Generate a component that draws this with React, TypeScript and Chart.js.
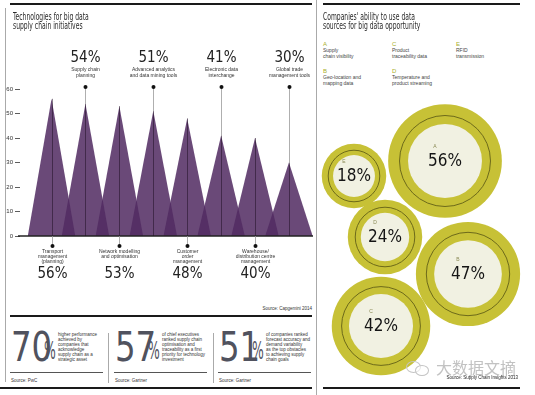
import React, { useEffect, useRef } from "react";
import { Chart, registerables } from "chart.js";
Chart.register(...registerables);

// ---------- data ----------
const techLabels: string[][] = [
  ["Transport", "management", "(planning)"],
  ["Supply chain", "planning"],
  ["Network modelling", "and optimisation"],
  ["Advanced analytics", "and data mining tools"],
  ["Customer", "order", "management"],
  ["Electronic data", "interchange"],
  ["Warehouse/", "distribution centre", "management"],
  ["Global trade", "management tools"],
];
const techValues = [56, 54, 53, 51, 48, 41, 40, 30];
const techSide = ["below", "above", "below", "above", "below", "above", "below", "above"];
const yTicks = [0, 10, 20, 30, 40, 50, 60];

const sourceLetters = ["A", "B", "C", "D", "E"];
const sourceLabels: string[][] = [
  ["Supply", "chain visibility"],
  ["Geo-location and", "mapping data"],
  ["Product", "traceability data"],
  ["Temperature and", "product streaming"],
  ["RFID", "transmission"],
];
const sourceValues = [56, 47, 42, 24, 18];
// packed-bubble layout positions (layout units)
const bubbleX = [445, 468, 381, 385, 354];
const bubbleY = [161, 274, 326, 237, 176];

const statValues = ["70", "57", "51"];
const statTexts: string[][] = [
  ["higher performance", "achieved by", "companies that", "acknowledge", "supply chain as a", "strategic asset"],
  ["of chief executives", "ranked supply chain", "optimisation and", "traceability as a first", "priority for technology", "investment"],
  ["of companies ranked", "forecast accuracy and", "demand variability", "as the top obstacles", "to achieving supply", "chain goals"],
];
const statSources = ["Source: PwC", "Source: Gartner", "Source: Gartner"];

// ---------- styles ----------
const NARROW = '"Liberation Sans Narrow","DejaVu Sans Condensed","Arial Narrow",sans-serif';
const SANS = '"Liberation Sans","DejaVu Sans",Arial,sans-serif';

function TechChart() {
  const ref = useRef<HTMLCanvasElement>(null);
  useEffect(() => {
    const W = 0.7;
    const datasets: any[] = techValues.map((v, i) => ({
      type: "line",
      data: [
        { x: i - W, y: 0 },
        { x: i, y: v },
        { x: i + W, y: 0 },
      ],
      fill: "origin",
      backgroundColor: "rgba(82,43,98,0.86)",
      borderWidth: 0,
      pointRadius: 0,
      tension: 0,
      clip: false,
    }));
    const labelPlugin = {
      id: "techLabels",
      afterDatasetsDraw(chart: any) {
        const { ctx, chartArea: a, scales } = chart;
        const xs = scales.x, ys = scales.y;
        const y0 = ys.getPixelForValue(0);
        ctx.save();
        ctx.strokeStyle = "#222";
        ctx.lineWidth = 1.5;
        ctx.beginPath();
        ctx.moveTo(a.left - 2, y0);
        ctx.lineTo(a.right, y0);
        ctx.stroke();
        techValues.forEach((v, i) => {
          const px = Math.round(xs.getPixelForValue(i)) + 0.5;
          const py = ys.getPixelForValue(v);
          const above = techSide[i] === "above";
          const dotY = above ? a.top - 2 : y0 + 10;
          ctx.lineWidth = 0.8;
          if (above) {
            ctx.strokeStyle = "#9a9a9a";
            ctx.beginPath();
            ctx.moveTo(px, dotY);
            ctx.lineTo(px, py);
            ctx.stroke();
          }
          ctx.strokeStyle = "rgba(30,15,35,0.65)";
          ctx.beginPath();
          ctx.moveTo(px, py);
          ctx.lineTo(px, y0);
          ctx.stroke();
          if (!above) {
            ctx.strokeStyle = "#9a9a9a";
            ctx.beginPath();
            ctx.moveTo(px, y0);
            ctx.lineTo(px, dotY);
            ctx.stroke();
          }
          ctx.fillStyle = "#111";
          ctx.beginPath();
          ctx.arc(px, dotY, 2, 0, Math.PI * 2);
          ctx.fill();
          ctx.textAlign = "center";
          ctx.textBaseline = "middle";
          const lines = techLabels[i];
          ctx.font = `5px ${SANS}`;
          ctx.fillStyle = "#333";
          if (above) {
            const start = a.top - 13.5 - (lines.length - 1) * 5.5;
            lines.forEach((l, k) => ctx.fillText(l, px, start + k * 5.5));
            ctx.font = `15px ${NARROW}`;
            ctx.fillStyle = "#222";
            ctx.fillText(v + "%", px, a.top - 31);
          } else {
            lines.forEach((l, k) => ctx.fillText(l, px, y0 + 16 + k * 5));
            ctx.font = `15px ${NARROW}`;
            ctx.fillStyle = "#222";
            ctx.fillText(v + "%", px, y0 + 38);
          }
        });
        ctx.restore();
      },
    };
    const chart = new Chart(ref.current as HTMLCanvasElement, {
      type: "line",
      data: { datasets },
      options: {
        animation: false,
        responsive: false,
        events: [],
        layout: { autoPadding: false, padding: { top: 89, bottom: 64, left: 0, right: 3 } },
        plugins: { legend: { display: false }, tooltip: { enabled: false } },
        scales: {
          x: { type: "linear", display: false, min: -0.93, max: 7.71 },
          y: {
            type: "linear",
            min: 0,
            max: 60,
            afterFit: (s: any) => {
              s.width = 20;
            },
            afterBuildTicks: (s: any) => {
              s.ticks = yTicks.map((v) => ({ value: v }));
            },
            ticks: { color: "#333", font: { size: 6, family: SANS }, padding: 2 },
            grid: { drawOnChartArea: false, tickLength: 5, color: "#333", lineWidth: 0.8 },
            border: { display: false },
          },
        },
      } as any,
      plugins: [labelPlugin],
    });
    return () => chart.destroy();
  }, []);
  return (
    <canvas
      ref={ref}
      width={316}
      height={300}
      style={{ position: "absolute", left: 0, top: 0, width: 316, height: 300 }}
    />
  );
}

function SourceBubbles() {
  const ref = useRef<HTMLCanvasElement>(null);
  useEffect(() => {
    const K = 7.6;
    const mk = (f: number) =>
      sourceValues.map((v, i) => ({ x: bubbleX[i], y: bubbleY[i], r: K * Math.sqrt(v) * f }));
    const datasets: any[] = [
      { data: mk(0.65), backgroundColor: "#f1f1e2", borderWidth: 0, order: 1, clip: false },
      { data: mk(0.8), backgroundColor: "rgba(0,0,0,0)", borderColor: "#6d6a1a", borderWidth: 1, order: 2, clip: false },
      { data: mk(1), backgroundColor: "#c7c136", borderWidth: 0, order: 3, clip: false },
    ];
    const textPlugin = {
      id: "bubbleText",
      afterDatasetsDraw(chart: any) {
        const { ctx, scales } = chart;
        ctx.save();
        sourceValues.forEach((v, i) => {
          const px = scales.x.getPixelForValue(bubbleX[i]);
          const py = scales.y.getPixelForValue(bubbleY[i]);
          ctx.textAlign = "center";
          ctx.textBaseline = "middle";
          ctx.font = `5px ${SANS}`;
          ctx.fillStyle = "#8a8a55";
          ctx.fillText(sourceLetters[i], px - 10, py - 14);
          ctx.font = `17px ${NARROW}`;
          ctx.fillStyle = "#151515";
          ctx.fillText(v + "%", px, py + 1);
        });
        ctx.restore();
      },
    };
    const chart = new Chart(ref.current as HTMLCanvasElement, {
      type: "bubble",
      data: { datasets },
      options: {
        animation: false,
        responsive: false,
        events: [],
        layout: { autoPadding: false, padding: 0 },
        plugins: { legend: { display: false }, tooltip: { enabled: false } },
        scales: {
          x: { type: "linear", display: false, min: 318, max: 535 },
          y: { type: "linear", display: false, min: 90, max: 390, reverse: true },
        },
      } as any,
      plugins: [textPlugin],
    });
    return () => chart.destroy();
  }, []);
  return (
    <canvas
      ref={ref}
      width={217}
      height={300}
      style={{ position: "absolute", left: 318, top: 90, width: 217, height: 300 }}
    />
  );
}

const abs = (s: React.CSSProperties): React.CSSProperties => ({ position: "absolute", ...s });

function Title({ lines, left, top }: { lines: string[]; left: number; top: number }) {
  return (
    <div style={abs({ left, top, fontFamily: NARROW, fontSize: 10.5, lineHeight: "9px", color: "#2a2a2a", transform: "scaleX(0.64)", transformOrigin: "left top", whiteSpace: "nowrap" })}>
      {lines.map((l, i) => (
        <div key={i}>{l}</div>
      ))}
    </div>
  );
}

export default function App() {
  const legendPos = [
    [323, 40],
    [323, 67],
    [392, 40],
    [392, 67],
    [456, 40],
  ];
  const statX = [11, 115, 219];
  return (
    <div style={abs({ left: 0, top: 0, width: 535, height: 395, background: "#fff", overflow: "hidden" })}>
      {/* frames */}
      <div style={abs({ left: 5, top: 8, width: 1, height: 374, background: "#aaa" })} />
      <div style={abs({ left: 316, top: 0, width: 1, height: 395, background: "#aaa" })} />
      <div style={abs({ left: 10, top: 3, width: 302, height: 2, background: "#1a1a1a" })} />
      <div style={abs({ left: 323, top: 3, width: 197, height: 2, background: "#1a1a1a" })} />
      <div style={abs({ left: 10, top: 315, width: 302, height: 2, background: "#1a1a1a" })} />
      <div style={abs({ left: 0, top: 387, width: 312, height: 2, background: "#1a1a1a" })} />
      <div style={abs({ left: 323, top: 387, width: 197, height: 2, background: "#1a1a1a" })} />

      <TechChart />
      <Title lines={["Technologies for big data", "supply chain initiatives"]} left={13} top={12} />
      <div style={abs({ left: 200, top: 306, width: 112, textAlign: "right", fontFamily: SANS, fontSize: 4.5, color: "#333" })}>
        Source: Capgemini 2014
      </div>

      {/* stats */}
      {statValues.map((v, i) => (
        <React.Fragment key={i}>
          <div style={abs({ left: statX[i], top: 325, fontFamily: NARROW, fontSize: 40, lineHeight: "44px", color: "#50525e", whiteSpace: "nowrap", transform: "scaleX(0.9)", transformOrigin: "left" })}>
            {v}
          </div>
          <div style={abs({ left: statX[i] + 33, top: 336, fontFamily: NARROW, fontSize: 25, lineHeight: "30px", color: "#50525e", whiteSpace: "nowrap", transform: "scaleX(0.55)", transformOrigin: "left" })}>
            %
          </div>
          <div style={abs({ left: statX[i] + 47, top: 332, fontFamily: SANS, fontSize: 4.5, lineHeight: "5px", color: "#333", whiteSpace: "nowrap" })}>
            {statTexts[i].map((t, k) => (
              <div key={k}>{t}</div>
            ))}
          </div>
          <div style={abs({ left: statX[i] - 1, top: 372, width: 93, height: 1, background: "#555" })} />
          <div style={abs({ left: statX[i], top: 378, fontFamily: SANS, fontSize: 4.5, color: "#333", whiteSpace: "nowrap" })}>
            {statSources[i]}
          </div>
        </React.Fragment>
      ))}
      <div style={abs({ left: 108, top: 333, width: 1, height: 50, background: "#aaa" })} />
      <div style={abs({ left: 213, top: 333, width: 1, height: 50, background: "#aaa" })} />

      {/* right panel */}
      <Title lines={["Companies' ability to use data", "sources for big data opportunity"]} left={323} top={12} />
      {sourceLetters.map((L, i) => (
        <div key={L} style={abs({ left: legendPos[i][0], top: legendPos[i][1], whiteSpace: "nowrap" })}>
          <div style={{ fontFamily: SANS, fontSize: 6, lineHeight: "8px", color: "#a9b02a" }}>{L}</div>
          {sourceLabels[i].map((t, k) => (
            <div key={k} style={{ fontFamily: SANS, fontSize: 5, lineHeight: "5.5px", color: "#444" }}>{t}</div>
          ))}
        </div>
      ))}

      <SourceBubbles />

      {/* watermark */}
      <div style={abs({ left: 406, top: 361, width: 13, height: 10, border: "1.5px solid #c4c4c4", borderRadius: "50%" })} />
      <div style={abs({ left: 415, top: 365, width: 12, height: 9, border: "1.5px solid #c4c4c4", borderRadius: "50%", background: "rgba(255,255,255,0.6)" })} />
      <div style={abs({ left: 436, top: 357, fontFamily: '"Noto Sans CJK SC",sans-serif', fontSize: 16, lineHeight: "20px", color: "#c2c2c2", whiteSpace: "nowrap" })}>
        大数据文摘
      </div>
      <div style={abs({ left: 400, top: 375, width: 118, textAlign: "right", fontFamily: SANS, fontSize: 4.5, color: "#222", whiteSpace: "nowrap" })}>
        Source: Supply Chain Insights 2013
      </div>
    </div>
  );
}
